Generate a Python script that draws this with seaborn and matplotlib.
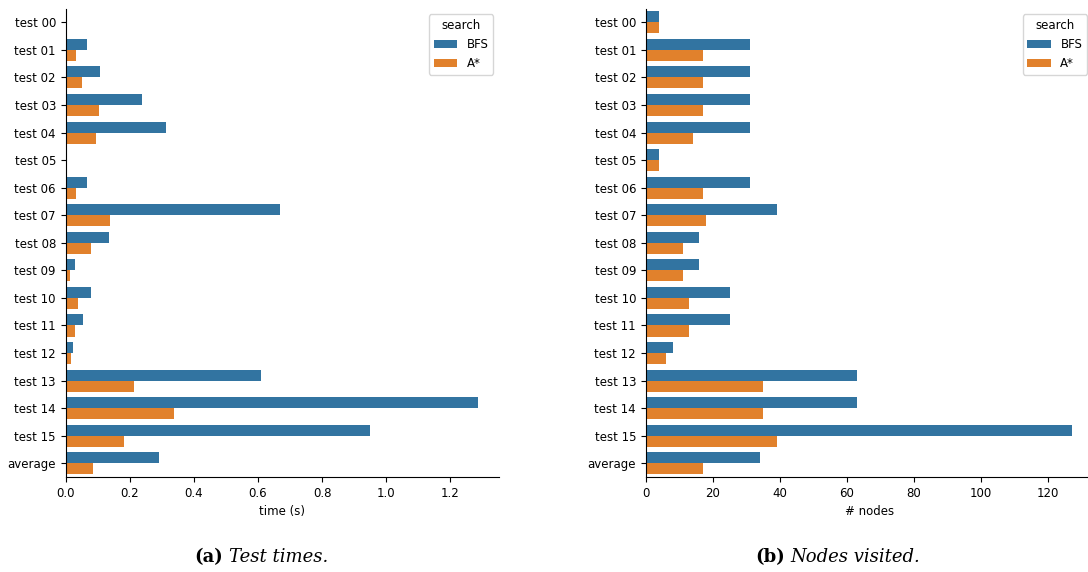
import matplotlib
matplotlib.use("Agg")
import matplotlib.pyplot as plt
import pandas as pd
import seaborn as sns

TESTS = [f"test {i:02d}" for i in range(16)] + ["average"]
SEARCHES = ["BFS", "A*"]

# run times in seconds
TIME_BFS = [0.0, 0.067, 0.106, 0.239, 0.314, 0.002, 0.067, 0.668, 0.136,
            0.030, 0.079, 0.055, 0.022, 0.608, 1.288, 0.949, 0.290]
TIME_ASTAR = [0.0, 0.033, 0.052, 0.103, 0.094, 0.001, 0.033, 0.139, 0.079,
              0.013, 0.039, 0.028, 0.016, 0.212, 0.339, 0.182, 0.085]

# nodes visited
NODES_BFS = [4, 31, 31, 31, 31, 4, 31, 39, 16, 16, 25, 25, 8, 63, 63, 127, 34]
NODES_ASTAR = [4, 17, 17, 17, 14, 4, 17, 18, 11, 11, 13, 13, 6, 35, 35, 39, 17]


def long_frame(bfs, astar, col):
    return pd.DataFrame({
        "test": TESTS * 2,
        "search": ["BFS"] * len(TESTS) + ["A*"] * len(TESTS),
        col: list(bfs) + list(astar),
    })


# plain matplotlib look, as in the original
plt.rcParams.update({"font.size": 8.5, "font.family": ["DejaVu Sans"]})

fig = plt.figure(figsize=(10.88, 5.72), dpi=100)
ax_t = fig.add_axes([0.0604, 0.166, 0.3983, 0.819])
ax_n = fig.add_axes([0.5935, 0.166, 0.411, 0.819])

times = long_frame(TIME_BFS, TIME_ASTAR, "time")
nodes = long_frame(NODES_BFS, NODES_ASTAR, "nodes")

sns.barplot(data=times, x="time", y="test", hue="search", hue_order=SEARCHES,
            order=TESTS, palette="tab10", ax=ax_t)
sns.barplot(data=nodes, x="nodes", y="test", hue="search", hue_order=SEARCHES,
            order=TESTS, palette="tab10", ax=ax_n)

ax_t.set_xlabel("time (s)")
ax_n.set_xlabel("# nodes")
for ax in (ax_t, ax_n):
    ax.set_ylabel("")
    sns.despine(ax=ax)
    ax.legend(title="search", loc="upper right")

# subfigure captions
cap = dict(family="DejaVu Serif", size=13, va="baseline")
y = 1 - 562 / 572
fig.text(223 / 1088, y, "(a)", ha="right", weight="bold", **cap)
fig.text(229 / 1088, y, "Test times.", ha="left", style="italic", **cap)
fig.text(785 / 1088, y, "(b)", ha="right", weight="bold", **cap)
fig.text(790 / 1088, y, "Nodes visited.", ha="left", style="italic", **cap)

fig.savefig("out.png", dpi=100)
